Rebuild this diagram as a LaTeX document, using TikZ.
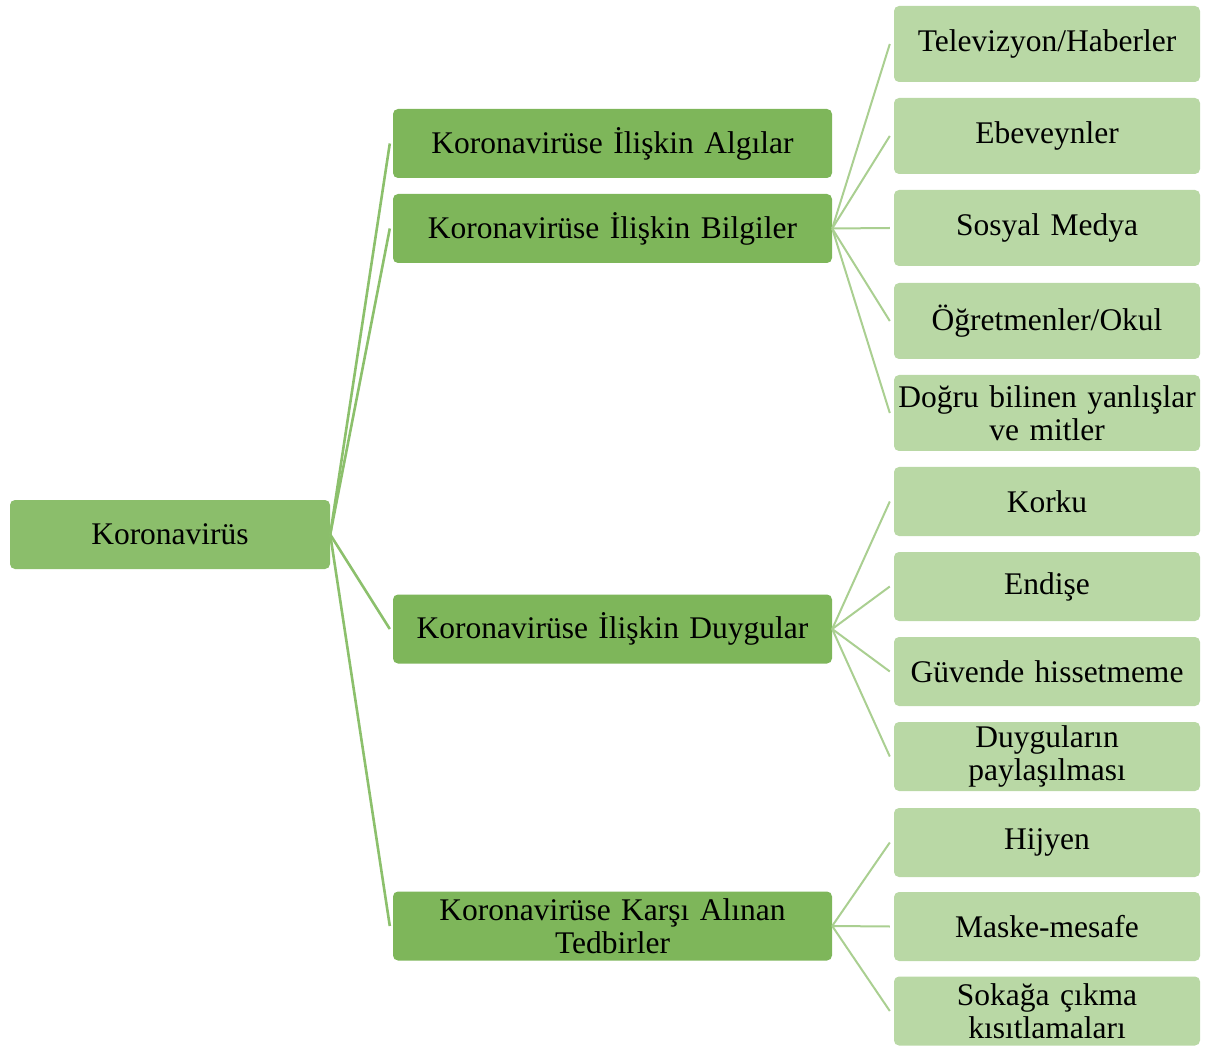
\documentclass[tikz,border=0pt]{standalone}
\usepackage{fontspec}
\setmainfont{Liberation Serif}
\definecolor{rootg}{HTML}{8BBE6B}
\definecolor{midg}{HTML}{7EB65A}
\definecolor{lightg}{HTML}{B9D8A5}
\definecolor{lineA}{HTML}{8CC06C}
\definecolor{lineB}{HTML}{AACF91}
\begin{document}
\begin{tikzpicture}[x=1pt,y=-1pt,
  base/.style={rectangle, rounded corners=5pt, inner sep=0pt, align=center,
    font=\fontsize{31.5}{33}\selectfont, text=black},
  rootbox/.style={base, fill=rootg, minimum width=320pt, minimum height=69pt},
  midbox/.style={base, fill=midg, minimum width=439pt, minimum height=69pt, text width=430pt},
  leafbox/.style={base, fill=lightg, minimum width=306pt, text width=304pt},
  leafA/.style={leafbox, minimum height=76pt},
  leafB/.style={leafbox, minimum height=69pt},
  linkA/.style={draw=lineA, line width=2.6pt},
  linkB/.style={draw=lineB, line width=2pt}]
\useasboundingbox (0,0) rectangle (1216,1048);
\node[rootbox] (root) at (170,534.5) {Koronavirüs};
\node[midbox] (alg) at (612.5,143.5) {Koronavirüse İlişkin Algılar};
\node[midbox] (bil) at (612.5,228.5) {Koronavirüse İlişkin Bilgiler};
\node[midbox] (duy) at (612.5,629) {Koronavirüse İlişkin Duygular};
\node[midbox] (ted) at (612.5,926) {Koronavirüse Karşı Alınan\\Tedbirler};
\node[leafA] (tv) at (1047,44) {Televizyon/Haberler};
\node[leafA] (ebe) at (1047,136) {Ebeveynler};
\node[leafA] (sos) at (1047,228) {Sosyal Medya};
\node[leafA] (ogr) at (1047,321) {Öğretmenler/Okul};
\node[leafA] (dog) at (1047,413) {Doğru bilinen yanlışlar\\ve mitler};
\node[leafB] (kor) at (1047,501.5) {Korku};
\node[leafB] (end) at (1047,586.5) {Endişe};
\node[leafB] (guv) at (1047,671.5) {Güvende hissetmeme};
\node[leafB] (dpy) at (1047,756.5) {Duyguların\\paylaşılması};
\node[leafB] (hij) at (1047,842.5) {Hijyen};
\node[leafB] (mas) at (1047,926.5) {Maske-mesafe};
\node[leafB] (sok) at (1047,1011) {Sokağa çıkma\\kısıtlamaları};
\foreach \c in {alg,bil,duy,ted}
  \draw[linkA] (root.east) -- ([xshift=-3pt]\c.west);
\foreach \c in {tv,ebe,sos,ogr,dog}
  \draw[linkB] (bil.east) -- ([xshift=-4pt]\c.west);
\foreach \c in {kor,end,guv,dpy}
  \draw[linkB] (duy.east) -- ([xshift=-4pt]\c.west);
\foreach \c in {hij,mas,sok}
  \draw[linkB] (ted.east) -- ([xshift=-4pt]\c.west);
\end{tikzpicture}
\end{document}
